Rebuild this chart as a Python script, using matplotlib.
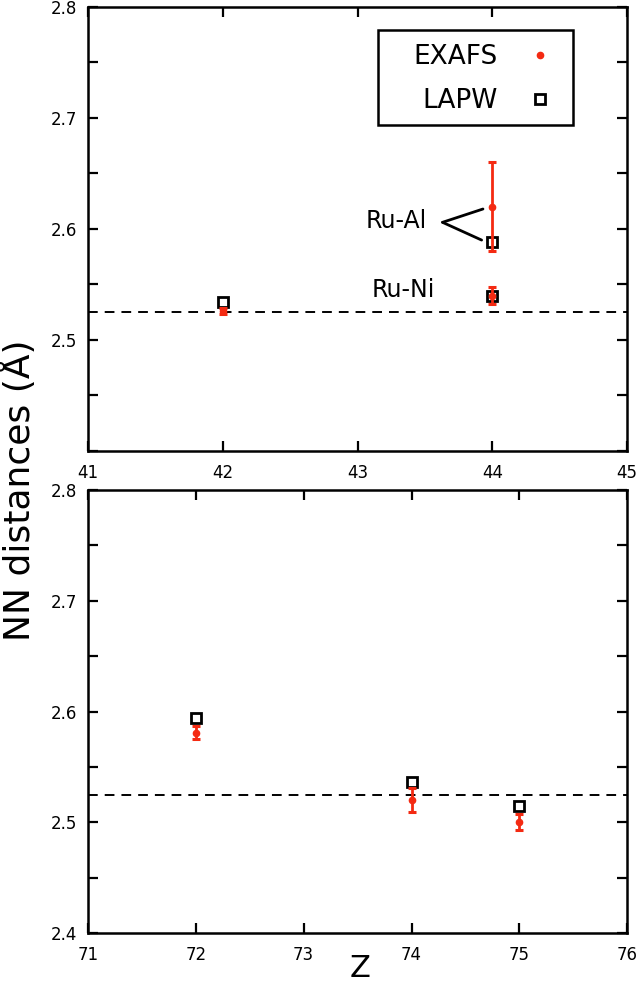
import numpy as np
import matplotlib.pyplot as plt
from matplotlib.lines import Line2D
from matplotlib.patches import Rectangle

# top panel (4d)
z_top = [42, 44, 44]
exafs_top = [2.526, 2.620, 2.540]
exafs_top_err = [0.003, 0.040, 0.0075]
lapw_top = [2.534, 2.588, 2.540]

# bottom panel (5d)
z_bot = [72, 74, 75]
exafs_bot = [2.581, 2.520, 2.500]
exafs_bot_err = [0.0055, 0.011, 0.0072]
lapw_bot = [2.594, 2.536, 2.5145]

ref_line = 2.525
red = "#f42a12"

fig = plt.figure(figsize=(6.4, 9.84), dpi=100)
ax1 = fig.add_axes([0.1375, 0.5417, 0.8425, 0.4512])
ax2 = fig.add_axes([0.1375, 0.0518, 0.8425, 0.4502])


def style(ax):
    for s in ax.spines.values():
        s.set_linewidth(1.8)
    ax.tick_params(direction="in", length=7, width=1.6, labelsize=12,
                   left=True, right=True, top=True, bottom=True)
    ax.tick_params(axis="y", pad=8)
    ax.tick_params(axis="x", pad=9.5)


for ax, z, ex, err, lp in [(ax1, z_top, exafs_top, exafs_top_err, lapw_top),
                           (ax2, z_bot, exafs_bot, exafs_bot_err, lapw_bot)]:
    ax.axhline(ref_line, color="black", ls=(0, (5, 3.6)), lw=1.4, zorder=1)
    ax.plot(z, lp, "s", ms=7, mfc="white", mec="black", mew=2.0, zorder=3)
    ax.errorbar(z, ex, yerr=err, fmt="o", color=red, ms=4.5, elinewidth=2,
                capsize=3, capthick=2.2, zorder=4)
    ax.set_ylim(2.4, 2.8)
    ax.set_yticks(np.arange(2.4, 2.801, 0.05))
    ax.set_yticklabels(["2.4", "", "2.5", "", "2.6", "", "2.7", "", "2.8"])
    style(ax)

ax1.set_xlim(41, 45)
ax1.set_xticks([41, 42, 43, 44, 45])
ax1.set_yticklabels(["", "", "2.5", "", "2.6", "", "2.7", "", "2.8"])

ax2.set_xlim(71, 76)
ax2.set_xticks([71, 72, 73, 74, 75, 76])

# legend: framed box drawn separately so its size matches
handles = [Line2D([], [], marker="o", color=red, ls="none", ms=4.5),
           Line2D([], [], marker="s", ls="none", ms=7, mfc="white",
                  mec="black", mew=2.0)]
ax1.legend(handles, ["EXAFS", "LAPW"], loc="upper left",
           bbox_to_anchor=(0.603, 0.917), markerfirst=False, fontsize=19,
           frameon=False, borderpad=0, labelspacing=0.7,
           handletextpad=1.1, handlelength=1.0, borderaxespad=0)
ax1.add_patch(Rectangle((0.538, 0.735), 0.362, 0.213, transform=ax1.transAxes,
                        fill=False, lw=1.8, ec="black", clip_on=False,
                        zorder=5))

ax1.text(43.29, 2.607, "Ru-Al", fontsize=17, ha="center", va="center")
ax1.text(43.34, 2.545, "Ru-Ni", fontsize=17, ha="center", va="center")
ax1.annotate("", xy=(43.93, 2.618), xytext=(43.63, 2.606),
             arrowprops=dict(arrowstyle="-", lw=2, color="black",
                             shrinkA=0, shrinkB=0))
ax1.annotate("", xy=(43.92, 2.590), xytext=(43.63, 2.606),
             arrowprops=dict(arrowstyle="-", lw=2, color="black",
                             shrinkA=0, shrinkB=0))

fig.text(0.028, 0.502, "NN distances (Å)", rotation=90, fontsize=26,
         ha="center", va="center")
fig.text(0.5625, 0.016, "Z", fontsize=22, ha="center", va="center")

fig.savefig("out.png", dpi=100)
